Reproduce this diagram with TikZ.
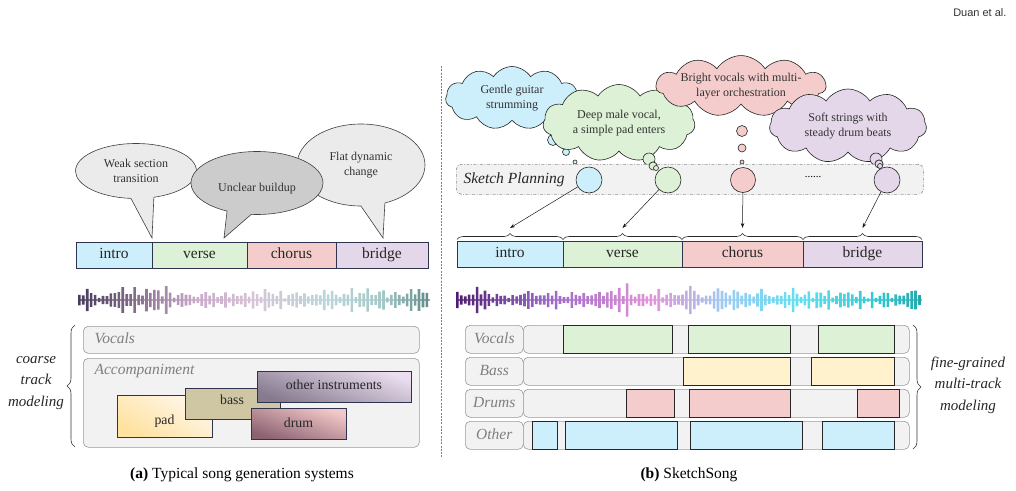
\documentclass[tikz,border=0pt]{standalone}
\usepackage{fontspec}
\setmainfont{Liberation Serif}
\newfontfamily\sansf{Liberation Sans}
\usetikzlibrary{shapes.callouts,shapes.symbols,decorations.pathreplacing,arrows.meta,calc}
\definecolor{navy}{HTML}{2E3350}
\definecolor{blueF}{HTML}{CDEEFB}
\definecolor{greenF}{HTML}{DCF1D5}
\definecolor{pinkF}{HTML}{F5CCCC}
\definecolor{lavF}{HTML}{E4D7E9}
\definecolor{yellowF}{HTML}{FFF2CC}
\definecolor{trkF}{HTML}{F2F2F2}
\definecolor{lblT}{HTML}{7F7F7F}
\definecolor{padA}{HTML}{FFE2A0}
\definecolor{padB}{HTML}{FFF7EC}
\definecolor{othA}{HTML}{857A8E}
\definecolor{othB}{HTML}{EADDF0}
\definecolor{drA}{HTML}{8A6272}
\definecolor{drB}{HTML}{F4C8C8}
\definecolor{bassF}{HTML}{CFC6A4}
\definecolor{wla}{HTML}{45395A}
\definecolor{wlb}{HTML}{7A6682}
\definecolor{wlc}{HTML}{CBAACB}
\definecolor{wld}{HTML}{D6C4D6}
\definecolor{wle}{HTML}{BAD6DA}
\definecolor{wlf}{HTML}{A6C8C8}
\definecolor{wlg}{HTML}{5E8686}
\definecolor{wra}{HTML}{4A1A6E}
\definecolor{wrb}{HTML}{9464C4}
\definecolor{wrc}{HTML}{E294D8}
\definecolor{wrd}{HTML}{9CCCF2}
\definecolor{wre}{HTML}{5EE0F0}
\definecolor{wrf}{HTML}{30C8D0}
\definecolor{wrg}{HTML}{22A6A8}
\pgfdeclarehorizontalshading{waveL}{100bp}{color(0bp)=(wla); color(25bp)=(wla); color(32bp)=(wlb); color(42bp)=(wlc); color(50bp)=(wld); color(60bp)=(wle); color(68bp)=(wlf); color(75bp)=(wlg); color(100bp)=(wlg)}
\pgfdeclarehorizontalshading{waveR}{100bp}{color(0bp)=(wra); color(25bp)=(wra); color(34bp)=(wrb); color(46bp)=(wrc); color(54bp)=(wrd); color(62bp)=(wre); color(70bp)=(wrf); color(75bp)=(wrg); color(100bp)=(wrg)}
\tikzset{
  sec/.style={draw=navy, line width=0.8pt, inner sep=0pt, outer sep=0pt, anchor=north west, minimum height=26, text height=11pt, text depth=3.5pt, font=\fontsize{15.5}{17}\selectfont, text=black!85},
  bub/.style={ellipse callout, draw=black!75, line width=0.6pt, font=\fontsize{12}{15}\selectfont, align=center, inner sep=0pt, text=black!80, callout pointer arc=22},
  cld/.style={cloud, cloud puffs=11, cloud puff arc=115, cloud ignores aspect, draw=black!85, line width=0.6pt, font=\fontsize{12}{14.5}\selectfont, align=center, inner sep=0pt, text=black!80},
  tb/.style={circle, draw=black!85, line width=0.6pt, inner sep=0pt},
  trk/.style={draw=black!40, line width=0.6pt, rounded corners=5pt, fill=trkF, anchor=north west, inner sep=0pt},
  lbl/.style={font=\fontsize{15.5}{17}\selectfont\itshape, text=lblT, text height=11pt, text depth=3.5pt},
  blk/.style={draw=black!85, line width=0.7pt, anchor=north west, inner sep=0pt, minimum height=28},
  inst/.style={draw=navy, line width=0.7pt, anchor=north west, inner sep=0pt},
  itxt/.style={font=\fontsize{13.8}{16}\selectfont, text=black!85, text height=9.5pt, text depth=3pt},
  brc/.style={decorate, decoration={brace, amplitude=8pt}, draw=black!80, line width=0.6pt},
  sbrc/.style={decorate, decoration={brace, amplitude=6pt}, draw=black!85, line width=0.6pt},
  arr/.style={-{Stealth[length=5pt,width=3.5pt]}, line width=0.5pt, draw=black!90},
  side/.style={font=\fontsize{15}{21.5}\selectfont\itshape, align=center, text=black!85},
}
\begin{document}
\begin{tikzpicture}[x=1pt,y=-1pt]
\useasboundingbox (0,0) rectangle (1016,490);
\node[font=\sansf\fontsize{11}{12}\selectfont, anchor=east, text=black!80] (auth) at (1010,13) {Duan et al.};
% divider
\coordinate (dvT) at (441,66);
\coordinate (dvB) at (441,458);
\draw[black!50, line width=0.7pt, dash pattern=on 2pt off 1.3pt] (dvT) -- (dvB);

% ---------------- LEFT PANEL ----------------
\node[sec, fill=blueF, minimum width=76] (lI) at (76,242) {intro};
\node[sec, fill=greenF, minimum width=95] (lV) at (152,242) {verse};
\node[sec, fill=pinkF, minimum width=89] (lC) at (247,242) {chorus};
\node[sec, fill=lavF, minimum width=92] (lB) at (336,242) {bridge};

\coordinate (pW) at (152,238);
\coordinate (pU) at (224,238);
\coordinate (pF) at (383,238);
\node[bub, fill=black!8, minimum width=121, minimum height=55, callout absolute pointer={(pW)}] (bW) at (136,171) {Weak section\\transition};
\node[bub, fill=black!8, minimum width=128, minimum height=82, callout absolute pointer={(pF)}] (bF) at (361,165) {Flat dynamic\\change};
\node[bub, fill=black!20, minimum width=132, minimum height=63, text height=17pt, text depth=0pt, callout absolute pointer={(pU)}] (bU) at (257,183) {Unclear buildup};

% waveform left
\begin{scope}
\pgfmathsetseed{7}
\clip (78,299.4) rectangle (430,300.6) foreach \i [evaluate=\i as \h using {1.5+4*rnd+12*rnd*rnd}] in {0,...,88} { (78+\i*3.95,300-\h) rectangle ++(2.6,2*\h) };
\shade[shading=waveL] (76,280) rectangle (432,320);
\end{scope}

% tracks left
\node[trk, minimum width=336, minimum height=27] (lVo) at (83,326) {};
\node[lbl, anchor=west] (lVoT) at (91,339.5) {Vocals};
\node[trk, minimum width=336, minimum height=89] (lAc) at (83,358) {};
\node[lbl, anchor=west] (lAcT) at (91,371) {Accompaniment};
\shade[draw=navy, line width=0.7pt, left color=padB, right color=padA, shading angle=-30] (117,395) rectangle (212,437);
\node[itxt] (pad) at (164.5,421) {pad};
\node[inst, fill=bassF, minimum width=95, minimum height=31] (bass) at (185,388) {};
\node[itxt] (bassT) at (232,401) {bass};
\shade[draw=navy, line width=0.7pt, left color=othB, right color=othA, shading angle=-20] (257,371) rectangle (411,402);
\node[itxt] (oth) at (334,386.5) {other instruments};
\shade[draw=navy, line width=0.7pt, left color=drB, right color=drA, shading angle=-20] (251,408) rectangle (346,439);
\node[itxt] (drum) at (298.5,424) {drum};

\coordinate (lbT) at (75,325);
\coordinate (lbB) at (75,447);
\draw[brc] (lbB) -- (lbT);
\node[side] (coarse) at (36,383) {coarse\\track\\modeling};

% ---------------- RIGHT PANEL ----------------
% clouds
\node[cld, fill=blueF, minimum width=133, minimum height=63] (cG) at (512,98) {Gentle guitar\\strumming};
\node[tb, fill=blueF, minimum size=11] (g1) at (553,140) {};
\node[tb, fill=blueF, minimum size=7] (g2) at (566,152) {};
\node[tb, fill=blueF, minimum size=4] (g3) at (575,162) {};
\node[cld, fill=greenF, minimum width=152, minimum height=77] (cD) at (619,123) {Deep male vocal,\\a simple pad enters};
\node[tb, fill=greenF, minimum size=12] (d1) at (649,159) {};
\node[tb, fill=greenF, minimum size=8] (d2) at (653,166) {};
\node[tb, fill=greenF, minimum size=5] (d3) at (656,168) {};
\node[cld, fill=pinkF, minimum width=162, minimum height=56] (cB) at (741,86) {Bright vocals with multi-\\layer orchestration};
\node[tb, fill=pinkF, minimum size=11] (b1) at (742,131) {};
\node[tb, fill=pinkF, minimum size=8] (b2) at (742,148) {};
\node[tb, fill=pinkF, minimum size=4] (b3) at (742,162) {};
\node[cld, fill=lavF, minimum width=157, minimum height=74] (cS) at (848,126) {Soft strings with\\steady drum beats};
\node[tb, fill=lavF, minimum size=12] (s1) at (876,159) {};
\node[tb, fill=lavF, minimum size=8] (s2) at (879,164) {};
\node[tb, fill=lavF, minimum size=5] (s3) at (880,166) {};

% sketch planning
\node[draw=black!45, line width=0.6pt, dash pattern=on 3pt off 1.5pt on 0.8pt off 1.5pt, rounded corners=5pt, fill=trkF, anchor=north west, minimum width=467, minimum height=30, inner sep=0pt] (sp) at (456,164) {};
\node[font=\fontsize{15.5}{17}\selectfont\itshape, anchor=west, text=black!85] (spT) at (460,180) {Sketch Planning};
\node[tb, fill=blueF, minimum size=26] (sI) at (589,180) {};
\node[tb, fill=greenF, minimum size=26] (sV) at (668,180) {};
\node[tb, fill=pinkF, minimum size=25] (sC) at (743,180) {};
\node[font=\fontsize{11}{12}\selectfont] (dots) at (813,177) {......};
\node[tb, fill=lavF, minimum size=26] (sB) at (887,180) {};
% thought-bubble overlaps redrawn on top of big circles
\node[tb, fill=greenF, minimum size=8] (d2b) at (653,166) {};
\node[tb, fill=greenF, minimum size=5] (d3b) at (656,168) {};
\node[tb, fill=lavF, minimum size=8] (s2b) at (879,164) {};
\node[tb, fill=lavF, minimum size=5] (s3b) at (880,166) {};

% sections right
\node[sec, fill=blueF, minimum width=106] (rI) at (457,241) {intro};
\node[sec, fill=greenF, minimum width=119] (rV) at (563,241) {verse};
\node[sec, fill=pinkF, minimum width=121] (rC) at (682,241) {chorus};
\node[sec, fill=lavF, minimum width=119] (rB) at (803,241) {bridge};
\draw[sbrc] (rI.north west) ++(0,-1.5) -- ($(rI.north east)+(0,-1.5)$);
\draw[sbrc] (rV.north west) ++(0,-1.5) -- ($(rV.north east)+(0,-1.5)$);
\draw[sbrc] (rC.north west) ++(0,-1.5) -- ($(rC.north east)+(0,-1.5)$);
\draw[sbrc] (rB.north west) ++(0,-1.5) -- ($(rB.north east)+(0,-1.5)$);
\coordinate (tI) at ($(rI.north)+(0,-13)$);
\coordinate (tV) at ($(rV.north)+(0,-13)$);
\coordinate (tC) at ($(rC.north)+(0,-13)$);
\coordinate (tB) at ($(rB.north)+(0,-13)$);
\draw[arr] (sI) -- (tI);
\draw[arr] (sV) -- (tV);
\draw[arr] (sC) -- (tC);
\draw[arr] (sB) -- (tB);

% waveform right
\begin{scope}
\pgfmathsetseed{11}
\clip (456,299.4) rectangle (922,300.6) foreach \i [evaluate=\i as \h using {1.5+4*rnd+12*rnd*rnd}] in {0,...,117} { (456+\i*3.95,300-\h) rectangle ++(2.6,2*\h) };
\shade[shading=waveR] (454,280) rectangle (924,320);
\end{scope}

% tracks right
\node[trk, minimum width=58, minimum height=28] (vL) at (465,325) {};
\node[lbl] (vLT) at (vL.center) {Vocals};
\node[trk, minimum width=386, minimum height=28] (vT) at (523,325) {};
\node[trk, minimum width=58, minimum height=28] (baL) at (465,357) {};
\node[lbl] (baLT) at (baL.center) {Bass};
\node[trk, minimum width=386, minimum height=28] (baT) at (523,357) {};
\node[trk, minimum width=58, minimum height=28] (dL) at (465,389) {};
\node[lbl] (dLT) at (dL.center) {Drums};
\node[trk, minimum width=386, minimum height=28] (dT) at (523,389) {};
\node[trk, minimum width=58, minimum height=28] (oL) at (465,421) {};
\node[lbl] (oLT) at (oL.center) {Other};
\node[trk, minimum width=386, minimum height=28] (oT) at (523,421) {};

\node[blk, fill=greenF, minimum width=109] (v1) at (563,325) {};
\node[blk, fill=greenF, minimum width=102] (v2) at (688,325) {};
\node[blk, fill=greenF, minimum width=76] (v3) at (818,325) {};
\node[blk, fill=yellowF, minimum width=107] (ba1) at (683,357) {};
\node[blk, fill=yellowF, minimum width=83] (ba2) at (811,357) {};
\node[blk, fill=pinkF, minimum width=48] (dr1) at (626,389) {};
\node[blk, fill=pinkF, minimum width=101] (dr2) at (689,389) {};
\node[blk, fill=pinkF, minimum width=42] (dr3) at (857,389) {};
\node[blk, fill=blueF, minimum width=25] (o1) at (532,421) {};
\node[blk, fill=blueF, minimum width=112] (o2) at (565,421) {};
\node[blk, fill=blueF, minimum width=112] (o3) at (690,421) {};
\node[blk, fill=blueF, minimum width=72] (o4) at (822,421) {};

\coordinate (rbT) at (913,325);
\coordinate (rbB) at (913,449);
\draw[brc] (rbT) -- (rbB);
\node[side] (fine) at (968,385) {fine-grained\\multi-track\\modeling};

% captions
\node[font=\fontsize{15.5}{17}\selectfont] (capA) at (242,475) {\textbf{(a)} Typical song generation systems};
\node[font=\fontsize{15.5}{17}\selectfont] (capB) at (689,475) {\textbf{(b)} SketchSong};
\end{tikzpicture}
\end{document}
